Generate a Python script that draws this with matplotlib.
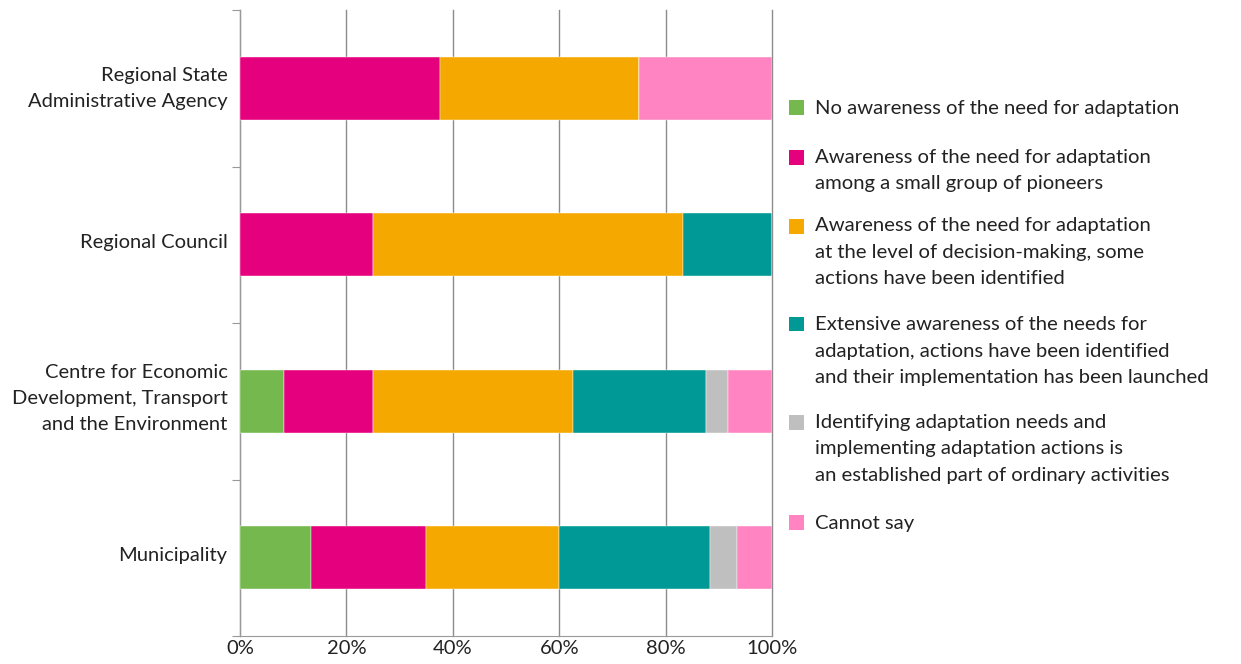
import matplotlib
matplotlib.use("Agg")
import matplotlib.pyplot as plt
import matplotlib.transforms as mtransforms
from matplotlib.patches import Rectangle
import numpy as np

plt.rcParams['font.family'] = ['Lato', 'DejaVu Sans']

categories = [
    "Regional State\nAdministrative Agency",
    "Regional Council",
    "Centre for Economic\nDevelopment, Transport\nand the Environment",
    "Municipality",
]
series_labels = [
    "No awareness of the need for adaptation",
    "Awareness of the need for adaptation\namong a small group of pioneers",
    "Awareness of the need for adaptation\nat the level of decision-making, some\nactions have been identified",
    "Extensive awareness of the needs for\nadaptation, actions have been identified\nand their implementation has been launched",
    "Identifying adaptation needs and\nimplementing adaptation actions is\nan established part of ordinary activities",
    "Cannot say",
]
# percentages per category, one list per series
no_awareness = [0.0, 0.0, 8.33, 13.33]
pioneers = [37.5, 25.0, 16.67, 21.67]
decision_making = [37.5, 58.33, 37.5, 25.0]
extensive = [0.0, 16.67, 25.0, 28.33]
established = [0.0, 0.0, 4.17, 5.0]
cannot_say = [25.0, 0.0, 8.33, 6.67]
colors = ["#74B84E", "#E5007D", "#F4A800", "#009995", "#BFBFBF", "#FF84C1"]
xticks = [0, 20, 40, 60, 80, 100]
xticklabels = ["0%", "20%", "40%", "60%", "80%", "100%"]

series = [no_awareness, pioneers, decision_making, extensive, established, cannot_say]

W, H = 1241, 664
LS = 1.67
fig = plt.figure(figsize=(W/100, H/100), dpi=100)
ax = fig.add_axes([240/W, 1-636/H, 532/W, 626/H])

y = np.arange(len(categories))
left = np.zeros(len(categories))
for vals, col in zip(series, colors):
    vals = np.array(vals)
    ax.barh(y, vals, left=left, height=0.4, color=col, edgecolor='white', linewidth=0.3, zorder=3)
    left += vals

ax.set_xlim(0, 100)
ax.set_ylim(3.5, -0.5)
ax.set_xticks(xticks)
ax.set_xticklabels(xticklabels, fontsize=14.5)
ax.tick_params(axis='x', length=0, pad=3, colors='#222222')

ax.set_yticks([-0.5, 0.5, 1.5, 2.5, 3.5])
ax.set_yticklabels([])
ax.set_yticks(y, minor=True)
ax.set_yticklabels(categories, minor=True, fontsize=14.5, color='#222222', linespacing=LS)
ax.tick_params(axis='y', which='major', length=6, color='#999999', direction='out')
ax.tick_params(axis='y', which='minor', length=0, pad=9)
for lab in ax.get_yticklabels(minor=True):
    n = lab.get_text().count("\n")
    dy = (3.5 + n * 2.75) / 100.0
    lab.set_transform(lab.get_transform() + mtransforms.ScaledTranslation(0, dy, fig.dpi_scale_trans))

ax.grid(axis='x', color='#8c8c8c', linewidth=1.0, zorder=0)
for gl in ax.get_xgridlines():
    gl.set_clip_on(False)
ax.spines['top'].set_visible(False)
ax.spines['right'].set_visible(False)
ax.spines['left'].set_color('#999999')
ax.spines['bottom'].set_color('#999999')

# legend drawn as squares + multi-line text
first_baselines_px = [114, 163.5, 232, 331, 428.5, 529]
sq_centers_px = [107.7, 157.5, 226.5, 324, 422.5, 522.5]
line_px = 26
sq = 14.5
for lab, col, bl, sc in zip(series_labels, colors, first_baselines_px, sq_centers_px):
    fig.patches.append(Rectangle((789/W, 1-(sc+sq/2)/H), sq/W, sq/H,
                                 transform=fig.transFigure, facecolor=col,
                                 edgecolor='none', figure=fig))
    nlines = lab.count("\n") + 1
    last_bl = bl + (nlines - 1) * line_px
    fig.text(815/W, 1-last_bl/H, lab, fontsize=14.6, color='#222222',
             ha='left', va='baseline', linespacing=LS)

fig.savefig("out.png", dpi=100)
